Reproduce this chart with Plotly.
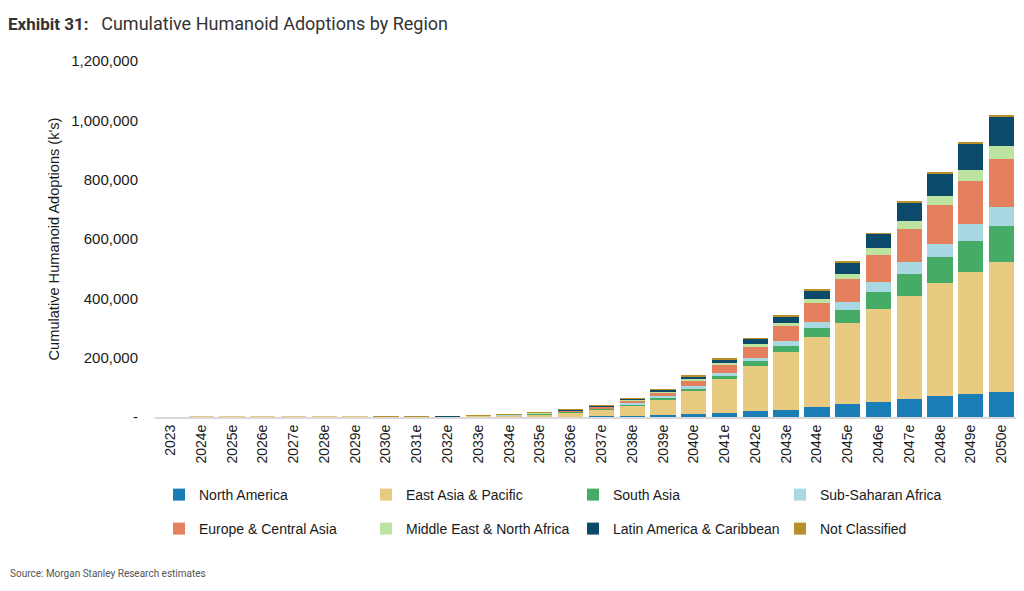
import plotly.graph_objects as go

years = ["2023"] + [f"{y}e" for y in range(2024, 2051)]

north_america = [0, 0, 0, 0, 0, 0, 0, 90, 140, 210, 360, 580, 900, 1500, 2500, 4000,
                 6700, 11400, 14800, 20200, 24900, 33600, 42700, 50400, 59500, 69600, 78600, 84000]
east_asia_pacific = [10, 20, 30, 40, 60, 90, 140, 900, 1310, 1940, 3420, 5420, 8550, 14000, 22500, 35000,
                     51800, 77300, 111900, 150200, 193600, 235300, 273200, 313900, 349500, 380800, 411100, 439300]
south_asia = [0, 0, 0, 0, 0, 0, 0, 90, 140, 200, 360, 570, 900, 1500, 2500, 4000,
              6700, 8800, 12400, 17800, 22500, 30200, 46100, 58200, 73000, 89700, 104200, 121000]
sub_saharan_africa = [0, 0, 0, 0, 0, 0, 0, 70, 100, 150, 270, 430, 680, 1100, 1800, 3000,
                      4400, 5700, 8800, 11000, 15500, 20200, 24500, 31200, 39000, 44700, 56100, 63900]
europe_central_asia = [0, 0, 0, 0, 0, 0, 0, 230, 340, 510, 900, 1420, 2250, 3600, 6000, 9500,
                       14400, 21200, 28200, 39300, 50400, 63900, 77300, 93100, 112200, 130100, 145600, 162300]
middle_east_n_africa = [0, 0, 0, 0, 0, 0, 0, 55, 85, 125, 220, 350, 550, 900, 1400, 2300,
                        3400, 4700, 5400, 6700, 9100, 13400, 19200, 22000, 26500, 30200, 36900, 42700]
latin_america_caribbean = [0, 0, 0, 0, 0, 0, 0, 95, 150, 220, 380, 600, 950, 1400, 2600, 4000,
                           5700, 8700, 13400, 19200, 23500, 30200, 39300, 48400, 62800, 76300, 88400, 98500]
not_classified = [0, 0, 0, 0, 0, 0, 0, 10, 15, 20, 35, 55, 85, 130, 210, 330,
                  500, 700, 1000, 1300, 1600, 1900, 2200, 2500, 2800, 3100, 3400, 3700]

y_tick_vals = [0, 200000, 400000, 600000, 800000, 1000000, 1200000]
y_tick_labels = ["-", "200,000", "400,000", "600,000", "800,000", "1,000,000", "1,200,000"]

series = [
    ("North America", north_america, "#1a7db5"),
    ("East Asia & Pacific", east_asia_pacific, "#e8cb80"),
    ("South Asia", south_asia, "#47ab68"),
    ("Sub-Saharan Africa", sub_saharan_africa, "#a9d8e3"),
    ("Europe & Central Asia", europe_central_asia, "#e5805f"),
    ("Middle East & North Africa", middle_east_n_africa, "#bde3a0"),
    ("Latin America & Caribbean", latin_america_caribbean, "#0b4a6b"),
    ("Not Classified", not_classified, "#b8902a"),
]

# page has an 8px body margin, so figure is drawn 8px smaller and everything is offset
W, H = 1016, 583
L, R, T, B = 147, 7, 53, 174
legend_text_x = [197, 404, 611, 818]   # where each legend label starts (page px)
legend_rows = [495, 529]               # row centres (page px)

fig = go.Figure()
layout_legends = {}
for i, (name, vals, color) in enumerate(series):
    key = "legend" if i == 0 else f"legend{i + 1}"
    fig.add_trace(go.Bar(x=years, y=vals, name=name, marker_color=color,
                         marker_line_width=0, legend=key, showlegend=True))
    layout_legends[key] = dict(
        xref="container", yref="container",
        x=(legend_text_x[i % 4] - 38 - 8) / W, y=1 - (legend_rows[i // 4] - 8) / H,
        xanchor="left", yanchor="middle", orientation="h",
        font=dict(family="Liberation Sans, Arial, sans-serif", size=14, color="#1a1a1a"),
        bgcolor="rgba(0,0,0,0)", itemclick=False, itemdoubleclick=False, visible=True,
    )

axis_font = dict(family="Liberation Sans, Arial, sans-serif", size=14, color="#1a1a1a")

fig.update_layout(
    width=W, height=H, showlegend=True,
    barmode="stack", bargap=0.18,
    plot_bgcolor="white", paper_bgcolor="white",
    margin=dict(l=L, r=R, t=T, b=B),
    title=dict(
        text="<b>Exhibit 31:</b>   <span style='font-size:18px'>Cumulative Humanoid Adoptions by Region</span>",
        x=0, xanchor="left", xref="container",
        y=1 - 16 / H, yanchor="middle", yref="container",
        font=dict(family="Roboto, sans-serif", size=17, color="#333333"),
    ),
    xaxis=dict(
        tickangle=-90, tickfont=axis_font, showgrid=False,
        showline=True, linecolor="#d9d9d9", linewidth=2, ticks="",
    ),
    yaxis=dict(
        range=[0, 1200000], tickvals=y_tick_vals, ticktext=y_tick_labels,
        tickfont=dict(family="Liberation Sans, Arial, sans-serif", size=15, color="#1a1a1a"),
        showgrid=False, zeroline=False, ticklabelstandoff=16,
        title=dict(text="Cumulative Humanoid Adoptions (k's)",
                   font=dict(family="Liberation Sans, Arial, sans-serif", size=14.6, color="#1a1a1a"),
                   standoff=8),
    ),
    annotations=[dict(
        text="Source: Morgan Stanley Research estimates", xref="paper", yref="paper",
        x=-L / (W - L - R), y=-((573 - 8) - (H - B)) / (H - T - B),
        xanchor="left", yanchor="middle", showarrow=False,
        font=dict(family="Roboto, sans-serif", size=10, color="#555555"),
    )],
    **layout_legends,
)

fig.write_html("out.html")
